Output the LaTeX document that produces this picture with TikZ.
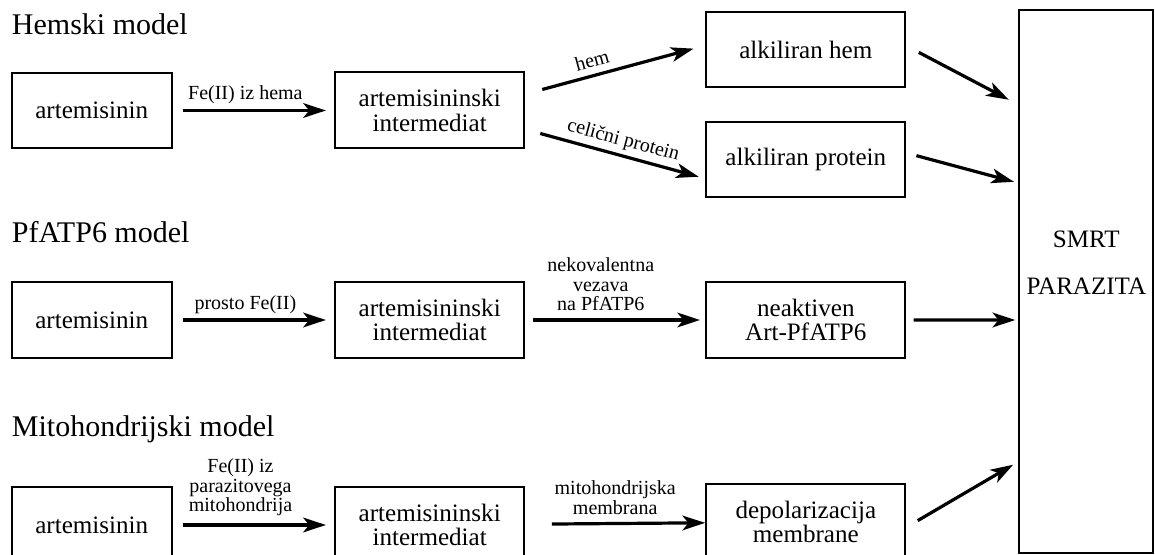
\documentclass[tikz,border=0pt]{standalone}
\usepackage{fontspec}
\setmainfont{Liberation Serif}
\usetikzlibrary{arrows.meta,calc}

\begin{document}
\begin{tikzpicture}[x=0.75pt,y=0.75pt,yscale=-1,xscale=1,
  box/.style={draw, line width=1.5pt, inner sep=0pt, align=center, font=\fontsize{18.8}{18.4}\selectfont},
  artbox/.style={box, minimum width=120pt, minimum height=56.6pt},
  intbox/.style={box, minimum width=141.8pt, minimum height=57pt},
  resbox/.style={box, minimum width=149.5pt, minimum height=56.7pt},
  title/.style={anchor=base west, inner sep=0pt, font=\fontsize{22.5}{27}\selectfont},
  lbl/.style={align=center, inner sep=1.5pt, font=\fontsize{15}{14.6}\selectfont},
  arr/.style={line width=2.4pt, -{Stealth[length=17pt,width=11pt,inset=4.5pt]}}]
\useasboundingbox (0,0) rectangle (1155,555);

%Shape: Rectangle [id:smrt]
\node[box, minimum width=100.5pt, minimum height=407.5pt] (smrt) at (1086.3,281.7) {};
% Text Node
\node[align=center, font=\fontsize{18.8}{18.4}\selectfont] (smrtlbl) at (1086.3,263) {SMRT\\[17pt]PARAZITA};

%% Hemski model
% Text Node
\node[title] (t1) at (11.7,35) {Hemski model};
%Shape: Rectangle
\node[artbox] (art1) at (91.7,110.5) {artemisinin};
\node[intbox] (int1) at (429.7,110.5) {artemisininski\\intermediat};
\node[resbox] (hem) at (805.8,49.5) {alkiliran hem};
\node[resbox] (prot) at (805.8,159.5) {alkiliran protein};
%Straight Lines
\draw[arr, shorten <=7.5pt, shorten >=6.2pt] (art1) -- node[lbl, above=2pt, pos=0.45] {Fe(II) iz hema} (int1);
\draw[arr, shorten >=9pt] ($(int1.east)+(17,-21)$) -- node[lbl, anchor=south, rotate=15.2, inner sep=5pt, pos=0.33] {hem} ($(hem.west)+(0,-4)$);
\draw[arr, shorten >=5pt] ($(int1.east)+(15,23)$) -- node[lbl, anchor=south, rotate=-15.1, inner sep=3pt, pos=0.48] {celični protein} ($(prot.west)+(0,19)$);
\draw[arr, shorten <=10.5pt, shorten >=8pt] ($(hem.east)+(0,-3.6)$) -- ($(smrt.west)+(0,-177)$);
\draw[arr, shorten <=7.7pt, shorten >=3.4pt] ($(prot.east)+(0,-6.5)$) -- ($(smrt.west)+(0,-98.7)$);

%% PfATP6 model
% Text Node
\node[title] (t2) at (11.7,243) {PfATP6 model};
%Shape: Rectangle
\node[artbox] (art2) at (91.7,320) {artemisinin};
\node[intbox] (int2) at (429.7,320) {artemisininski\\intermediat};
\node[resbox] (neak) at (805.8,320) {neaktiven\\Art-PfATP6};
%Straight Lines
\draw[arr, shorten <=7.5pt, shorten >=6.2pt] (art2) -- node[lbl, above=2pt, pos=0.45] {prosto Fe(II)} (int2);
\draw[arr, shorten <=5.5pt, shorten >=3.8pt] (int2) -- node[lbl, above=4pt, pos=0.42] {nekovalentna\\vezava\\na PfATP6} (neak);
\draw[arr, shorten <=5.3pt, shorten >=2.3pt] (neak) -- ($(smrt.west)+(0,38.3)$);

%% Mitohondrijski model
% Text Node
\node[title] (t3) at (11.7,436) {Mitohondrijski model};
%Shape: Rectangle
\node[artbox] (art3) at (91.7,525) {artemisinin};
\node[intbox] (int3) at (429.7,525) {artemisininski\\intermediat};
\node[resbox] (depol) at (805.8,522) {depolarizacija\\membrane};
%Straight Lines
\draw[arr, shorten <=7.5pt, shorten >=6.2pt] (art3) -- node[lbl, above=4pt, pos=0.42] {Fe(II) iz\\parazitovega\\mitohondrija} (int3);
\draw[arr, shorten <=20pt] (int3) -- node[lbl, above=4pt, pos=0.5] {mitohondrijska\\membrana} (depol);
\draw[arr, shorten <=9.8pt, shorten >=4.5pt] ($(depol.east)+(0,5.2)$) -- ($(smrt.west)+(0,180)$);

\end{tikzpicture}
\end{document}
